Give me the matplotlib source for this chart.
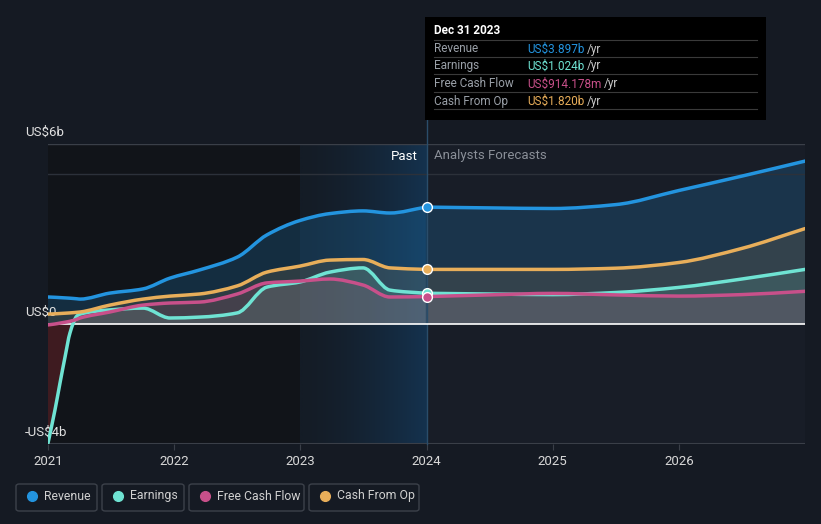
import numpy as np
import matplotlib.pyplot as plt
from matplotlib.patches import Rectangle, FancyBboxPatch, PathPatch
from matplotlib.path import Path
from matplotlib.colors import LinearSegmentedColormap

plt.rcParams['font.family'] = ['Roboto', 'DejaVu Sans']

# dados (US$ bilhoes)
past_t = [2021.0, 2021.055, 2021.095, 2021.135, 2021.174, 2021.23, 2021.254, 2021.49, 2021.753,
          2021.967, 2022.2, 2022.5, 2022.735, 2022.997, 2023.234, 2023.496, 2023.71, 2023.995]
fut_t = [2024.0, 2024.5, 2025.0, 2025.5, 2026.0, 2026.5, 2027.0]

revenue_past = [0.9, 0.89, 0.88, 0.87, 0.86, 0.84, 0.83, 1.03, 1.17, 1.53, 1.8, 2.23, 2.97, 3.45, 3.68, 3.77, 3.7, 3.897]
earnings_past = [-3.97, -2.87, -1.97, -1.1, -0.3, 0.27, 0.33, 0.47, 0.53, 0.2, 0.23, 0.37, 1.23, 1.4, 1.73, 1.87, 1.13, 1.024]
fcf_past = [-0.03, 0.0, 0.03, 0.06, 0.09, 0.16, 0.2, 0.4, 0.63, 0.7, 0.73, 1.0, 1.37, 1.43, 1.5, 1.3, 0.9, 0.914]
cfo_past = [0.33, 0.34, 0.35, 0.36, 0.37, 0.39, 0.4, 0.63, 0.83, 0.93, 1.0, 1.27, 1.73, 1.93, 2.13, 2.15, 1.87, 1.82]

revenue_fut = [3.897, 3.87, 3.85, 3.98, 4.45, 4.93, 5.43]
earnings_fut = [1.024, 1.0, 0.98, 1.05, 1.22, 1.5, 1.82]
fcf_fut = [0.914, 0.97, 1.02, 0.97, 0.93, 0.98, 1.09]
cfo_fut = [1.82, 1.82, 1.82, 1.86, 2.05, 2.52, 3.18]

names = ['Revenue', 'Earnings', 'Free Cash Flow', 'Cash From Op']
colors = ['#2394df', '#6fe3d3', '#c8508a', '#e8ae5a']
tooltip_vals = ['US$3.897b', 'US$1.024b', 'US$914.178m', 'US$1.820b']

W, H = 821, 524
bg = '#151a23'


def tangents(x, y):
    # tangentes monotonas (Fritsch-Carlson)
    x = np.asarray(x, float)
    y = np.asarray(y, float)
    h = np.diff(x)
    d = np.diff(y) / h
    m = np.zeros_like(y)
    m[0], m[-1] = d[0], d[-1]
    for k in range(1, len(y) - 1):
        if d[k - 1] * d[k] <= 0:
            m[k] = 0
        else:
            w1 = 2 * h[k] + h[k - 1]
            w2 = h[k] + 2 * h[k - 1]
            m[k] = (w1 + w2) / (w1 / d[k - 1] + w2 / d[k])
    return m


def smooth_verts(x, y):
    m = tangents(x, y)
    verts = [(x[0], y[0])]
    codes = [Path.MOVETO]
    for k in range(len(x) - 1):
        h = x[k + 1] - x[k]
        verts += [(x[k] + h / 3, y[k] + m[k] * h / 3),
                  (x[k + 1] - h / 3, y[k + 1] - m[k + 1] * h / 3),
                  (x[k + 1], y[k + 1])]
        codes += [Path.CURVE4] * 3
    return verts, codes


def line_path(x, y):
    v, c = smooth_verts(x, y)
    return Path(v, c)


def area_path(x, y):
    v, c = smooth_verts(x, y)
    v = v + [(x[-1], 0), (x[0], 0), (x[0], y[0])]
    c = c + [Path.LINETO, Path.LINETO, Path.CLOSEPOLY]
    return Path(v, c)


fig = plt.figure(figsize=(W / 100, H / 100), dpi=100, facecolor=bg)
ax = fig.add_axes([48 / W, 1 - 444 / H, (805 - 48) / W, (444 - 144) / H])
ax.set_facecolor('#181d27')
ax.set_xlim(2021, 2027)
ax.set_ylim(-4, 6)

# regioes de fundo
ax.axvspan(2021, 2023, color='#111419', zorder=0, lw=0)
grad = np.linspace(0, 1, 256).reshape(1, -1) ** 1.5
ax.imshow(grad, extent=[2023, 2024, -4, 6], aspect='auto',
          cmap=LinearSegmentedColormap.from_list('b', ['#141c26', '#15324e']), zorder=0.5)

for s in ax.spines.values():
    s.set_visible(False)

series_past = [revenue_past, earnings_past, fcf_past, cfo_past]
series_fut = [revenue_fut, earnings_fut, fcf_fut, cfo_fut]
fill_alpha = [0.2, 0.14, 0.14, 0.12]

pos_clip = Rectangle((2021, 0), 6, 6, transform=ax.transData)
neg_clip = Rectangle((2021, -4), 6, 4, transform=ax.transData)

# preenchimentos
for vp, vf, c, a in zip(series_past, series_fut, colors, fill_alpha):
    for tt, vv in [(past_t, vp), (fut_t, vf)]:
        p = PathPatch(area_path(tt, vv), facecolor=c, alpha=a, lw=0, zorder=1)
        ax.add_patch(p)
        p.set_clip_path(pos_clip)

neg = PathPatch(area_path(past_t, earnings_past), facecolor='#6b2228', alpha=0.5, lw=0, zorder=1)
ax.add_patch(neg)
neg.set_clip_path(neg_clip)

# grade
ax.axhline(6, color='#3a3f48', lw=1, zorder=2)
ax.axhline(5, color='#2c313a', lw=1, zorder=2)
ax.axhline(0, color='#ffffff', lw=1.2, zorder=3)
ax.axhline(-4, color='#3a3f48', lw=1.5, zorder=2)
ax.axvline(2024, ymin=0, ymax=(444 - 120) / (444 - 144), color='#2a4d6a', lw=1, zorder=2, clip_on=False)

# linhas
order = [2, 1, 3, 0]
for i in order:
    for tt, vv in [(past_t, series_past[i]), (fut_t, series_fut[i])]:
        ax.add_patch(PathPatch(line_path(tt, vv), facecolor='none', edgecolor=colors[i], lw=2.5,
                               zorder=5 + i, capstyle='round'))
    ax.plot([2024], [series_fut[i][0]], 'o', ms=7, mfc=colors[i], mec='white', mew=1, zorder=10 + i)

ax.set_xticks([2021, 2022, 2023, 2024, 2025, 2026])
ax.set_xticklabels(['2021', '2022', '2023', '2024', '2025', '2026'])
ax.tick_params(axis='x', colors='#3a3f48', labelcolor='#d8d8d8', labelsize=9.5, length=4, pad=4)
ax.set_yticks([])

for val, lab in [(6, 'US$6b'), (0, 'US$0'), (-4, '-US$4b')]:
    ax.text(-23 / 126.2 + 2021, val + 0.4, lab, color='#e0e0e0', fontsize=9.5, ha='left', va='center', clip_on=False)

ax.text(2023.93, 5.6, 'Past', color='#ffffff', fontsize=9.5, ha='right', va='center')
ax.text(2024.06, 5.6, 'Analysts Forecasts', color='#8a8f98', fontsize=9.5, ha='left', va='center')


def fx(x):
    return x / W


def fy(y):
    return 1 - y / H


# tooltip
fig.add_artist(Rectangle((fx(425), fy(120)), (766 - 425) / W, (120 - 17) / H, transform=fig.transFigure,
                         facecolor='#000000', edgecolor='none', zorder=20))
fig.text(fx(434), fy(31), 'Dec 31 2023', color='white', fontsize=8.5, fontweight='bold', va='center', zorder=21)
for y in [40, 57, 74, 92, 109]:
    fig.add_artist(plt.Line2D([fx(434), fx(757)], [fy(y), fy(y)], color='#3a3a3a', lw=0.8, zorder=21))
rows_y = [49, 66, 84, 101]
val_texts = []
for name, val, c, y in zip(names, tooltip_vals, colors, rows_y):
    fig.text(fx(434), fy(y), name, color='#9aa0a8', fontsize=8.5, va='center', zorder=21)
    val_texts.append(fig.text(fx(527), fy(y), val, color=c, fontsize=8.5, va='center', zorder=21))

fig.canvas.draw()
r = fig.canvas.get_renderer()
for t, y in zip(val_texts, rows_y):
    bb = t.get_window_extent(r)
    fig.text(bb.x1 / W + 3 / W, fy(y), '/yr', color='#c8c8c8', fontsize=8.5, va='center', zorder=21)

# legenda
boxes = [(16, 97), (102, 184), (189, 304), (309, 419)]
for (x0, x1), name, c in zip(boxes, names, colors):
    fig.add_artist(FancyBboxPatch((fx(x0), fy(511)), (x1 - x0) / W, 27 / H, boxstyle='round,pad=0,rounding_size=0.004',
                                  transform=fig.transFigure, facecolor='none', edgecolor='#3c414a', lw=1))
    fig.add_artist(plt.Line2D([fx(x0 + 16)], [fy(496)], marker='o', ms=7, color=c, mec=c, lw=0))
    fig.text(fx(x0 + 28), fy(496), name, color='#d0d0d0', fontsize=8.8, va='center')

fig.savefig('out.png', dpi=100, facecolor=bg)
